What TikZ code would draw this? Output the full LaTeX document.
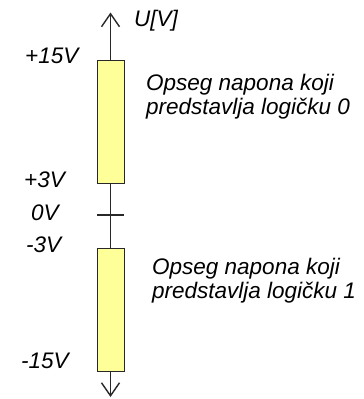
\documentclass[tikz,border=0pt]{standalone}
\usepackage{fontspec}
\setmainfont{Liberation Sans}
\usetikzlibrary{arrows.meta}
\definecolor{rangefill}{RGB}{255,255,153}
\definecolor{inkgray}{RGB}{40,40,40}
\begin{document}
\begin{tikzpicture}[x=1pt,y=-1pt,
  lbl/.style={anchor=base west,inner sep=0pt,font=\fontsize{22.5}{23.5}\selectfont\itshape,text=black},
  desc/.style={lbl,align=left},
  rangebox/.style={draw=inkgray,line width=1.4pt,fill=rangefill,minimum width=27pt,minimum height=123pt,inner sep=0pt,anchor=north west},
  axisline/.style={draw=inkgray,line width=1.4pt},
  barb/.tip={Straight Barb[length=13pt,width=18pt,line width=1.4pt]}
]
\useasboundingbox (0,0) rectangle (364,399);
\coordinate (top) at (110.5,12.5);
\coordinate (bot) at (110.5,397);
\coordinate (tickL) at (97,215);
\coordinate (tickR) at (124,215);
\draw[axisline,barb-barb] (bot) -- (top);
\draw[axisline] (tickL) -- (tickR);
\node[rangebox] (r0) at (97,60) {};
\node[rangebox] (r1) at (97,248) {};
\node[lbl] (u) at (134,26) {U[V]};
\node[lbl] (p15) at (25,63) {+15V};
\node[lbl] (p3) at (24,187) {+3V};
\node[lbl] (z) at (31,220) {0V};
\node[lbl] (m3) at (26,252) {-3V};
\node[lbl] (m15) at (21,368) {-15V};
\node[desc] (d0) at (146,114) {Opseg napona koji\\predstavlja logičku 0};
\node[desc] (d1) at (152,298) {Opseg napona koji\\predstavlja logičku 1};
\end{tikzpicture}
\end{document}
